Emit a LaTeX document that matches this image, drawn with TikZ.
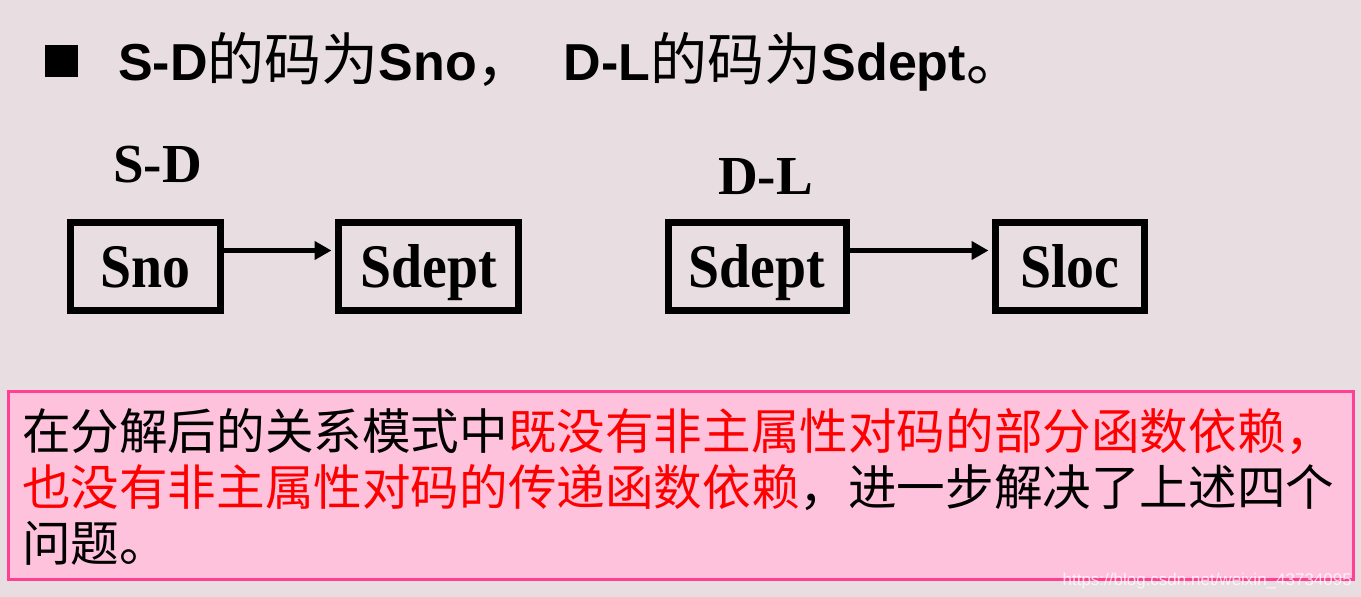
\documentclass[tikz,border=0pt]{standalone}
\usepackage{fontspec}
\setmainfont{Liberation Serif}
\newfontfamily\hdfont{Liberation Sans}
\newfontfamily\boxfont[FakeStretch=0.9]{Liberation Serif}
\newfontfamily\cjk{Noto Sans CJK SC}
\usetikzlibrary{arrows.meta}

\definecolor{bgpink}{HTML}{E8DEE1}
\definecolor{notefill}{HTML}{FFC2DC}
\definecolor{noteline}{HTML}{FF4094}
\definecolor{notered}{HTML}{FF0000}

\begin{document}
\begin{tikzpicture}[x=1pt, y=-1pt, >={Triangle[length=17pt,width=18pt]},
  attr/.style={draw, line width=7pt, inner sep=0pt, minimum height=88pt,
    text height=41pt, text depth=0pt, font=\boxfont\bfseries\fontsize{62}{62}\selectfont},
  rel/.style={font=\bfseries\fontsize{55}{55}\selectfont, inner sep=0pt, anchor=base west},
  fd/.style={->, line width=5pt, shorten >=3.5pt},
  zeile/.style={inner sep=0pt, anchor=base west, font=\cjk\fontsize{48.6}{48.6}\selectfont}]

\def\sd{\hdfont\bfseries}
\def\zh{\cjk\fontsize{57}{57}\selectfont}

\fill[bgpink] (0,0) rectangle (1361,597);
\useasboundingbox (0,0) rectangle (1361,597);

\fill (45,45) rectangle (78,77);
\node[inner sep=0pt, anchor=base west, font=\fontsize{52}{52}\selectfont] (titel) at (118,80)
  {{\sd S-D}{\zh 的码为}{\sd Sno}{\zh ，}\hspace{30pt}{\sd D-L}{\zh 的码为}{\sd Sdept}{\zh 。}};

\node[rel] (sd) at (113,182) {S-D};
\node[rel] (dl) at (718,194) {D-L};

\node[attr, minimum width=149.5pt] (sno) at (145.25,266.5) {Sno};
\node[attr, minimum width=180pt] (sdept1) at (428.5,266.5) {Sdept};
\node[attr, minimum width=178pt] (sdept2) at (757,266.5) {Sdept};
\node[attr, minimum width=148.5pt] (sloc) at (1069.75,266.5) {Sloc};

\draw[fd] ([yshift=16pt]sno.east) -- ([yshift=16pt]sdept1.west);
\draw[fd] ([yshift=16pt]sdept2.east) -- ([yshift=16pt]sloc.west);

\draw[fill=notefill, draw=noteline, line width=3pt] (8.5,391.5) rectangle (1353.5,579.5);

\node[zeile] (z1) at (22,449) {在分解后的关系模式中\textcolor{notered}{既没有非主属性对码的部分函数依赖，}};
\node[zeile] (z2) at (22,505) {\textcolor{notered}{也没有非主属性对码的传递函数依赖}，进一步解决了上述四个};
\node[zeile] (z3) at (22,561) {问题。};

\node[inner sep=0pt, anchor=base east, text=white, opacity=0.75,
  font=\hdfont\fontsize{17}{17}\selectfont] (wm) at (1352,585) {https://blog.csdn.net/weixin\_43734095};

\end{tikzpicture}
\end{document}
